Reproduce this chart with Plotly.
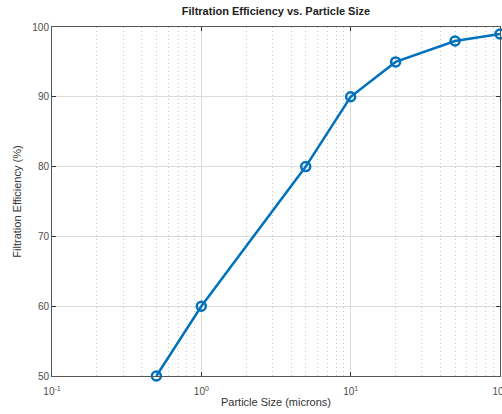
import plotly.graph_objects as go

# Particle size (microns) and measured filtration efficiency (%)
particle_size = [0.5, 1, 5, 10, 20, 50, 100]
efficiency = [50, 60, 80, 90, 95, 98, 99]

x_tick_vals = [0.1, 1, 10, 100]
x_tick_text = ["10<sup>-1</sup>", "10<sup>0</sup>", "10<sup>1</sup>", "10<sup>2</sup>"]
x_minor_vals = [m * d for d in (0.1, 1, 10) for m in range(2, 10)]
y_tick_vals = [50, 60, 70, 80, 90, 100]

LINE_BLUE = "#0072BD"
AXIS_GRAY = "#555555"
FONT = "Liberation Sans, Arial, sans-serif"

fig = go.Figure()
fig.add_trace(go.Scatter(
    x=particle_size,
    y=efficiency,
    mode="lines+markers",
    line=dict(color=LINE_BLUE, width=2.5),
    marker=dict(symbol="circle-open", size=9, color=LINE_BLUE, line=dict(width=2.5, color=LINE_BLUE)),
    cliponaxis=False,
    showlegend=False,
))

fig.update_layout(
    width=502,
    height=414,
    margin=dict(l=52, r=2, t=27, b=38),
    paper_bgcolor="white",
    plot_bgcolor="white",
    font=dict(family=FONT, size=10, color="#4d4d4d"),
    title=dict(
        text="<b>Filtration Efficiency vs. Particle Size</b>",
        x=0.5, xanchor="center", xref="paper",
        y=1 - 11 / 414, yanchor="middle", yref="container",
        font=dict(size=11, color="#222222", family=FONT),
    ),
    xaxis=dict(
        type="log",
        range=[-1, 2.00001],
        automargin=False,
        tickmode="array",
        tickvals=x_tick_vals,
        ticktext=x_tick_text,
        ticks="inside",
        ticklen=4,
        tickcolor="#333333",
        ticklabeloverflow="allow",
        ticklabelstandoff=6,
        showline=True,
        linecolor=AXIS_GRAY,
        linewidth=1,
        mirror="ticks",
        showgrid=True,
        gridcolor="#dcdcdc",
        gridwidth=1,
        minor=dict(
            tickmode="array",
            tickvals=x_minor_vals,
            showgrid=True,
            gridcolor="#c4c4c4",
            griddash="1px,3px",
            gridwidth=1,
            ticks="",
        ),
        zeroline=False,
        title=dict(text="Particle Size (microns)", standoff=2, font=dict(size=11, color="#333333")),
        tickfont=dict(size=10, color="#4d4d4d"),
    ),
    yaxis=dict(
        range=[50, 100],
        automargin=False,
        tickvals=y_tick_vals,
        ticks="inside",
        ticklen=4,
        tickcolor="#333333",
        showline=True,
        linecolor=AXIS_GRAY,
        linewidth=1,
        mirror="ticks",
        showgrid=True,
        gridcolor="#dcdcdc",
        gridwidth=1,
        zeroline=False,
        title=dict(text="Filtration Efficiency (%)", standoff=8, font=dict(size=11, color="#333333")),
        tickfont=dict(size=10, color="#4d4d4d"),
    ),
)

fig.write_html("out.html")
